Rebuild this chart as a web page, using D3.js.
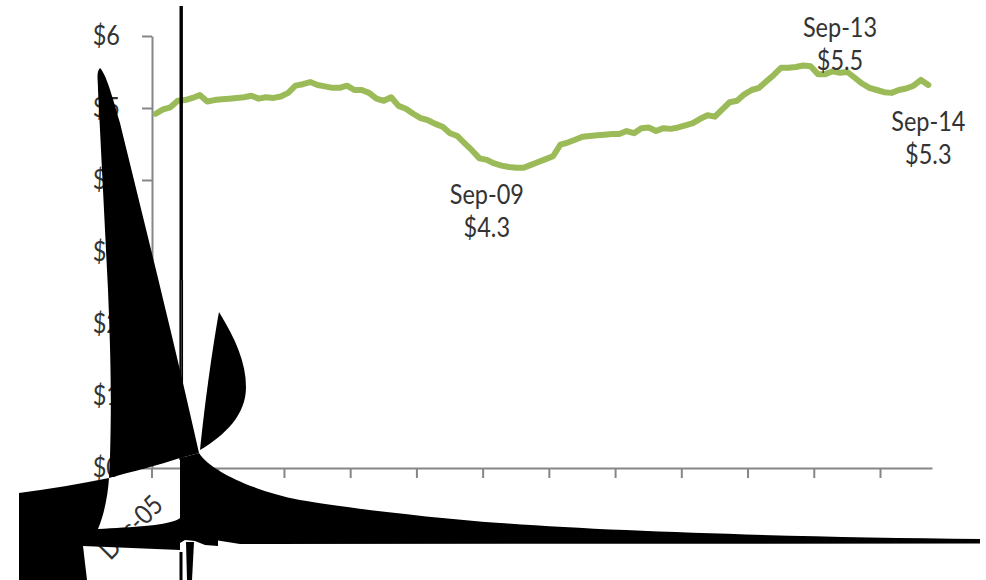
<!DOCTYPE html>
<html>
<head>
<meta charset="utf-8">
<script src="https://cdn.jsdelivr.net/npm/d3@7"></script>
<style>
  html, body { margin: 0; padding: 0; background: #fff; }
  text { font-family: Lato, "Open Sans", sans-serif; fill: #333; }
</style>
</head>
<body>
<svg id="chart" width="986" height="580"></svg>
<script>
const months = [
  "Dec-05",
  "Jan-06","Feb-06","Mar-06","Apr-06","May-06","Jun-06","Jul-06","Aug-06","Sep-06","Oct-06","Nov-06","Dec-06",
  "Jan-07","Feb-07","Mar-07","Apr-07","May-07","Jun-07","Jul-07","Aug-07","Sep-07","Oct-07","Nov-07","Dec-07",
  "Jan-08","Feb-08","Mar-08","Apr-08","May-08","Jun-08","Jul-08","Aug-08","Sep-08","Oct-08","Nov-08","Dec-08",
  "Jan-09","Feb-09","Mar-09","Apr-09","May-09","Jun-09","Jul-09","Aug-09","Sep-09","Oct-09","Nov-09","Dec-09",
  "Jan-10","Feb-10","Mar-10","Apr-10","May-10","Jun-10","Jul-10","Aug-10","Sep-10","Oct-10","Nov-10","Dec-10",
  "Jan-11","Feb-11","Mar-11","Apr-11","May-11","Jun-11","Jul-11","Aug-11","Sep-11","Oct-11","Nov-11","Dec-11",
  "Jan-12","Feb-12","Mar-12","Apr-12","May-12","Jun-12","Jul-12","Aug-12","Sep-12","Oct-12","Nov-12","Dec-12",
  "Jan-13","Feb-13","Mar-13","Apr-13","May-13","Jun-13","Jul-13","Aug-13","Sep-13","Oct-13","Nov-13","Dec-13",
  "Jan-14","Feb-14","Mar-14","Apr-14","May-14","Jun-14","Jul-14","Aug-14","Sep-14"
];
const values = [
  4.92,4.98,5.01,5.10,5.11,5.14,5.18,5.09,5.11,5.12,5.13,5.14,5.15,
  5.17,5.13,5.15,5.14,5.16,5.21,5.31,5.33,5.36,5.32,5.30,5.28,
  5.28,5.31,5.25,5.25,5.21,5.13,5.10,5.15,5.03,4.99,4.92,4.86,
  4.83,4.78,4.74,4.65,4.61,4.51,4.41,4.30,4.28,4.23,4.20,4.18,
  4.17,4.17,4.21,4.25,4.29,4.33,4.49,4.52,4.56,4.60,4.61,4.62,
  4.63,4.64,4.64,4.68,4.65,4.72,4.73,4.68,4.72,4.71,4.73,4.76,
  4.79,4.85,4.90,4.88,4.98,5.08,5.10,5.19,5.25,5.28,5.37,5.46,
  5.56,5.56,5.57,5.59,5.58,5.47,5.47,5.51,5.49,5.50,5.42,5.34,
  5.28,5.25,5.22,5.21,5.25,5.27,5.31,5.39,5.32
];
const yTicks = [0, 1, 2, 3, 4, 5, 6];
const xTickLabels = ["Dec-05"];
const calloutMonths = ["Sep-09", "Sep-13", "Sep-14"];
const calloutTexts = ["$4.3", "$5.5", "$5.3"];

const svg = d3.select("#chart");
const axisColor = "#868686";
const fontSize = 27;
const squeeze = 0.87;   // the source font is narrow, Lato is not
const calloutGap = [44, -36, 46];   // baseline of the first row, from the point

const x = d3.scaleBand().domain(months).range([152, 932]);
const y = d3.scaleLinear().domain([0, 6]).range([468, 36]);
const cx = m => x(m) + x.bandwidth() / 2;

// axes, ticks sit on the band edge every 9 months
const xAxis = d3.axisBottom(x)
  .tickValues(months.filter((m, i) => i % 9 == 0))
  .tickSize(10).tickSizeOuter(0)
  .tickFormat(() => "");
const gx = svg.append("g").attr("transform", "translate(0,468)").call(xAxis);
gx.selectAll(".tick").attr("transform", d => "translate(" + x(d) + ",0)");

const yAxis = d3.axisLeft(y)
  .tickValues(yTicks).tickSize(10).tickSizeOuter(0)
  .tickFormat(d => "$" + d);
const gy = svg.append("g").attr("transform", "translate(152,0)").call(yAxis);

svg.selectAll(".domain, .tick line")
  .attr("stroke", axisColor).attr("stroke-width", 2);
gy.selectAll("text")
  .attr("x", 0).attr("dy", "0.31em")
  .attr("transform", "translate(-32,0) scale(" + squeeze + ",1)")
  .attr("font-size", fontSize).attr("font-family", null);

// only the first month label is printed
xTickLabels.forEach(m => {
  svg.append("text")
    .attr("transform", "translate(" + (x(m) + 6) + ",500) rotate(-45) scale(" + squeeze + ",1)")
    .attr("text-anchor", "end")
    .attr("dy", "0.35em")
    .attr("font-size", fontSize)
    .text(m);
});

// the series
svg.append("path")
  .datum(values)
  .attr("fill", "none")
  .attr("stroke", "#9bbb59")
  .attr("stroke-width", 6)
  .attr("stroke-linejoin", "round")
  .attr("stroke-linecap", "round")
  .attr("d", d3.line().x((d, i) => cx(months[i])).y(d => y(d)));

calloutMonths.forEach((m, n) => {
  const top = y(values[months.indexOf(m)]) + calloutGap[n];
  [m, calloutTexts[n]].forEach((s, k) => {
    svg.append("text")
      .attr("text-anchor", "middle")
      .attr("font-size", fontSize)
      .attr("transform", "translate(" + cx(m) + "," + (top + k * 33) + ") scale(" + squeeze + ",1)")
      .text(s);
  });
});

// long vertical stroke, two strokes with a dark seam from about y=280
svg.append("line").attr("x1", 181.2).attr("x2", 181.2).attr("y1", 6).attr("y2", 280)
  .attr("stroke", "#000").attr("stroke-width", 3.4);
svg.append("line").attr("x1", 181.3).attr("x2", 181.3).attr("y1", 280).attr("y2", 460)
  .attr("stroke", "#444").attr("stroke-width", 3.4);
svg.append("line").attr("x1", 180.2).attr("x2", 180.2).attr("y1", 280).attr("y2", 460)
  .attr("stroke", "#000").attr("stroke-width", 1.3);
svg.append("line").attr("x1", 182.4).attr("x2", 182.4).attr("y1", 280).attr("y2", 460)
  .attr("stroke", "#000").attr("stroke-width", 1.3);
svg.append("line").attr("x1", 181).attr("x2", 181).attr("y1", 552).attr("y2", 580)
  .attr("stroke", "#000").attr("stroke-width", 3);

// black rendering debris that lies over the chart in the source image
const debris = [
  "M100,68 C96,72 98,80 98,90 L108,290 C110,340 112,390 110,457 L109,478 C130,472 160,465 180,458 L180,550 L83,546 L87,580 L19,580 L19,493 C50,489 80,484 109,478 C108,495 104,515 98,529 C130,527 170,526 180,518 L180,458 C187,456 193,455 199,453 C175,345 140,205 120,123 C112,95 106,74 100,68 Z",
  "M219,312 C235,338 246,362 246,387 C246,415 225,435 200,450 C204,410 212,350 219,312 Z",
  "M180,458 C187,456 193,455 199,453 C210,470 250,490 300,500 C340,507 430,518 500,523 C620,532 800,537 980,539 L980,543.5 L240,544 L218,540.5 L218,546 L205,545 L195,541 L185,540 L180,543 Z",
  "M186,542 L194,542 L192,580 L187,580 Z"
];
svg.selectAll("path.debris")
  .data(debris)
  .join("path")
  .attr("class", "debris")
  .attr("fill", "#000")
  .attr("d", d => d);
</script>
</body>
</html>
